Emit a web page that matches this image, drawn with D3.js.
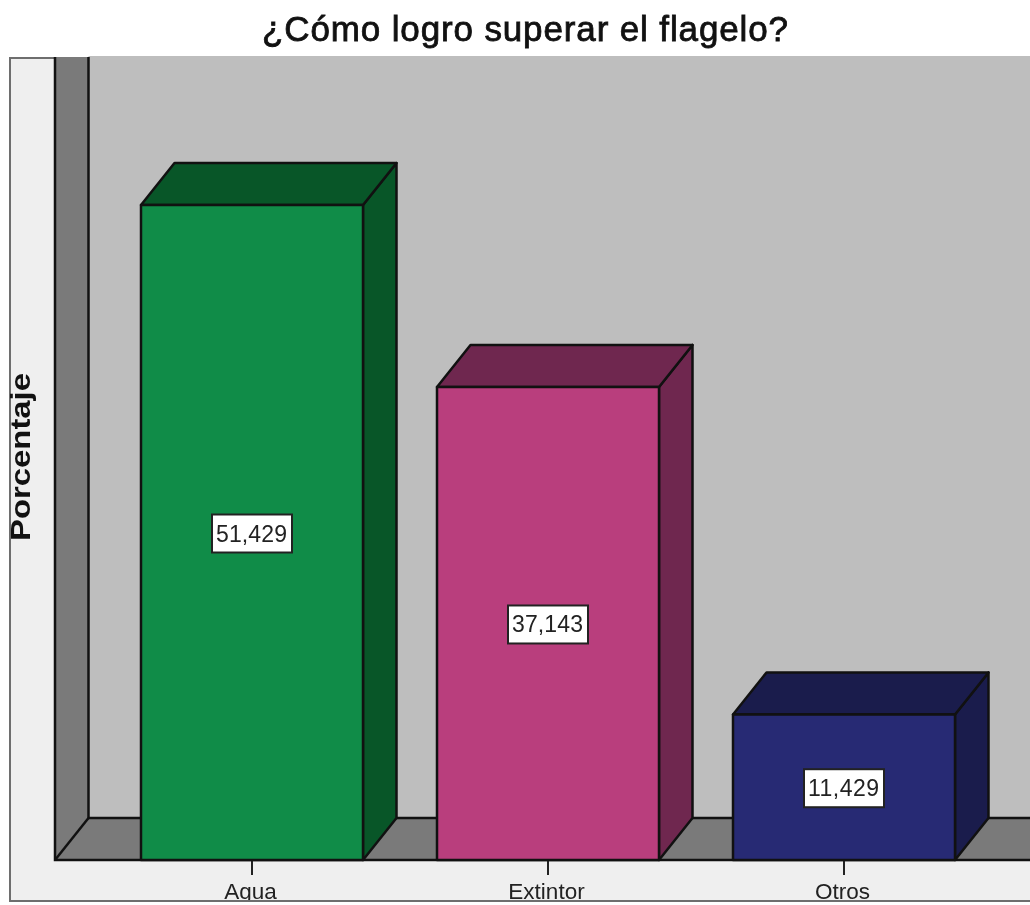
<!DOCTYPE html>
<html><head><meta charset="utf-8">
<script src="https://cdn.jsdelivr.net/npm/d3@7/dist/d3.min.js"></script>
<style>html,body{margin:0;padding:0;background:#fff;overflow:hidden}svg{display:block;filter:blur(0.6px)}text{font-family:"Liberation Sans",Arial,sans-serif}</style>
</head><body><svg id="c" width="1030" height="905"></svg>
<script>
const categories = ["Agua", "Extintor", "Otros"];
const values = [51.429, 37.143, 11.429];
const valueLabels = ["51,429", "37,143", "11,429"];
const frontColors = ["#108c48", "#b93e7d", "#272a74"];
const darkColors = ["#085628", "#6f274f", "#1a1c4c"];
const chartTitle = "¿Cómo logro superar el flagelo?";
const yTitle = "Porcentaje";

const W = 1030, baseY = 860, topY = 57, wallX = 55, dx = 33.5, dy = -42;
const svg = d3.select("#c");
const x = d3.scaleBand().domain(categories).range([141, 955]).paddingInner(0.25).paddingOuter(0);
const y = d3.scaleLinear().domain([0, 51.429]).range([baseY, 205]);
const stroke = "#111";
const line = d3.line();

svg.append("rect").attr("x", 0).attr("y", 0).attr("width", W).attr("height", 905).attr("fill", "#fff");
// outer frame
svg.append("rect").attr("x", 10).attr("y", 58).attr("width", 1040).attr("height", 843)
  .attr("fill", "#efefef").attr("stroke", "#6e6e6e").attr("stroke-width", 2);
// back wall
svg.append("rect").attr("x", wallX + dx).attr("y", 56).attr("width", W - wallX - dx).attr("height", baseY + dy - 56).attr("fill", "#bebebe");
// side wall and floor
svg.append("path").attr("d", line([[wallX, 57], [wallX + dx, 57], [wallX + dx, baseY + dy], [wallX, baseY]]) + "Z").attr("fill", "#7a7a7a");
svg.append("path").attr("d", line([[wallX, baseY], [wallX + dx, baseY + dy], [W, baseY + dy], [W, baseY]]) + "Z").attr("fill", "#7a7a7a");
// wall lines
[[[wallX, 57], [wallX, baseY], [W, baseY]],
 [[wallX + dx, 57], [wallX + dx, baseY + dy], [W, baseY + dy]],
 [[wallX, baseY], [wallX + dx, baseY + dy]]].forEach(p =>
  svg.append("path").attr("d", line(p)).attr("fill", "none").attr("stroke", stroke).attr("stroke-width", 2.5));

// x axis ticks and labels
const axisG = svg.append("g").attr("transform", `translate(0,${baseY})`);
axisG.call(d3.axisBottom(x).tickSize(15));
axisG.select(".domain").remove();
axisG.selectAll(".tick line").attr("stroke", "#222").attr("stroke-width", 2);
axisG.selectAll(".tick text").attr("x", -1.5).attr("y", 39).attr("dy", 0).attr("font-size", 22.5).attr("fill", "#222")
  .attr("font-family", '"Liberation Sans",Arial,sans-serif');
svg.append("path").attr("d", line([[10, 901], [W, 901]])).attr("stroke", "#6e6e6e").attr("stroke-width", 2).attr("fill", "none");
svg.append("rect").attr("x", 0).attr("y", 902).attr("width", W).attr("height", 3).attr("fill", "#fff");

// bars
const bars = svg.selectAll("g.bar").data(categories).join("g").attr("class", "bar");
bars.each(function (c, i) {
  const g = d3.select(this), x0 = x(c), x1 = x0 + x.bandwidth(), yT = y(values[i]), yB = y(0);
  const st = s => s.attr("stroke", stroke).attr("stroke-width", 2.5).attr("stroke-linejoin", "round");
  st(g.append("path").attr("d", line([[x1, yT], [x1 + dx, yT + dy], [x1 + dx, yB + dy], [x1, yB]]) + "Z").attr("fill", darkColors[i]));
  st(g.append("path").attr("d", line([[x0, yT], [x0 + dx, yT + dy], [x1 + dx, yT + dy], [x1, yT]]) + "Z").attr("fill", darkColors[i]));
  st(g.append("rect").attr("x", x0).attr("y", yT).attr("width", x1 - x0).attr("height", yB - yT).attr("fill", frontColors[i]));
});

// value labels
const labels = svg.selectAll("g.lab").data(categories).join("g").attr("class", "lab");
labels.each(function (c, i) {
  const cx = x(c) + x.bandwidth() / 2, cy = (y(values[i]) + y(0)) / 2 + 1;
  const g = d3.select(this);
  g.append("rect").attr("x", cx - 40).attr("y", cy - 19).attr("width", 80).attr("height", 38)
    .attr("fill", "#fff").attr("stroke", "#222").attr("stroke-width", 2);
  g.append("text").attr("x", cx - 0.5).attr("y", cy + 8).attr("text-anchor", "middle").attr("font-size", 23).attr("fill", "#222")
    .attr("textLength", 71).attr("lengthAdjust", "spacing").text(valueLabels[i]);
});

// titles
svg.append("text").attr("x", 525).attr("y", 41).attr("text-anchor", "middle").attr("font-size", 35)
  .attr("fill", "#111").attr("stroke", "#111").attr("stroke-width", 0.8)
  .attr("textLength", 526).attr("lengthAdjust", "spacing").text(chartTitle);
svg.append("text").attr("transform", "translate(30,457) rotate(-90)").attr("text-anchor", "middle").attr("font-size", 27).attr("font-weight", 700).attr("fill", "#111")
  .attr("textLength", 168).attr("lengthAdjust", "spacingAndGlyphs").text(yTitle);
</script></body></html>
